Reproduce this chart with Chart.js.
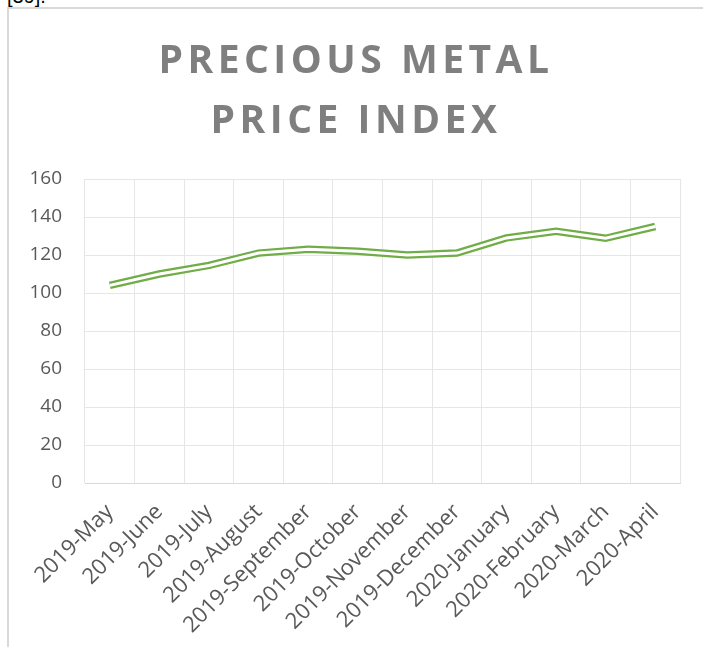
<!DOCTYPE html>
<html>
<head>
<meta charset="utf-8">
<script src="https://cdn.jsdelivr.net/npm/chart.js@4.4.1/dist/chart.umd.min.js"></script>
<style>
  html, body { margin:0; padding:0; background:#fff; overflow:hidden; width:703px; height:647px; }
  #ref { position:absolute; left:7px; top:-15px; font-family:"Liberation Sans", sans-serif; font-size:20px; color:#000; }
  #frame { position:absolute; left:7px; top:7px; width:800px; height:800px; border-left:2px solid #d9d9d9; border-top:2px solid #d9d9d9; box-sizing:border-box; }
  #title { position:absolute; left:9px; top:28px; width:694px; text-align:center; font-family:"Open Sans", sans-serif; font-weight:bold; font-size:39px; line-height:60px; letter-spacing:4.5px; color:#7f7f7f; }
  #c { position:absolute; left:9px; top:9px; }
</style>
</head>
<body>
<div id="ref">[39].</div>
<div id="frame"></div>
<canvas id="c" width="694" height="638"></canvas>
<div id="title">PRECIOUS METAL<br>PRICE INDEX</div>
<script>
const categories = ["2019-May","2019-June","2019-July","2019-August","2019-September","2019-October","2019-November","2019-December","2020-January","2020-February","2020-March","2020-April"];
const priceIndex = [104, 110, 114.5, 121, 123, 122, 120, 121, 129, 132.5, 128.8, 135];
const yTicks = [0, 20, 40, 60, 80, 100, 120, 140, 160];

new Chart(document.getElementById('c'), {
  type: 'line',
  data: {
    labels: categories,
    datasets: [
      { label: 'inner', data: priceIndex, borderColor: '#ffffff', borderWidth: 3, pointRadius: 0, tension: 0, order: 0, borderJoinStyle: 'miter' },
      { label: 'Precious Metal Price Index', data: priceIndex, borderColor: '#70ad47', borderWidth: 7.5, pointRadius: 0, tension: 0, order: 1, borderJoinStyle: 'miter' }
    ]
  },
  options: {
    responsive: false,
    animation: false,
    devicePixelRatio: 1,
    layout: { padding: { top: 170, right: 23, left: 0, bottom: 0 } },
    plugins: { legend: { display: false }, tooltip: { enabled: false }, title: { display: false } },
    scales: {
      x: {
        offset: true,
        grid: { offset: true, color: '#e6e6e6', drawTicks: false },
        border: { color: '#d9d9d9' },
        ticks: { font: { family: "'Open Sans', sans-serif", size: 22 }, color: '#595959', maxRotation: 45, minRotation: 45, padding: 16, autoSkip: false },
        afterFit: s => { s.height = 164; }
      },
      y: {
        min: 0, max: 160,
        afterBuildTicks: s => { s.ticks = yTicks.map(v => ({ value: v })); },
        grid: { color: '#e6e6e6', drawTicks: false },
        border: { display: false },
        ticks: { font: { family: "'Open Sans', sans-serif", size: 19 }, color: '#595959', padding: 23 },
        afterFit: s => { s.width = 76; }
      }
    }
  }
});
</script>
</body>
</html>
